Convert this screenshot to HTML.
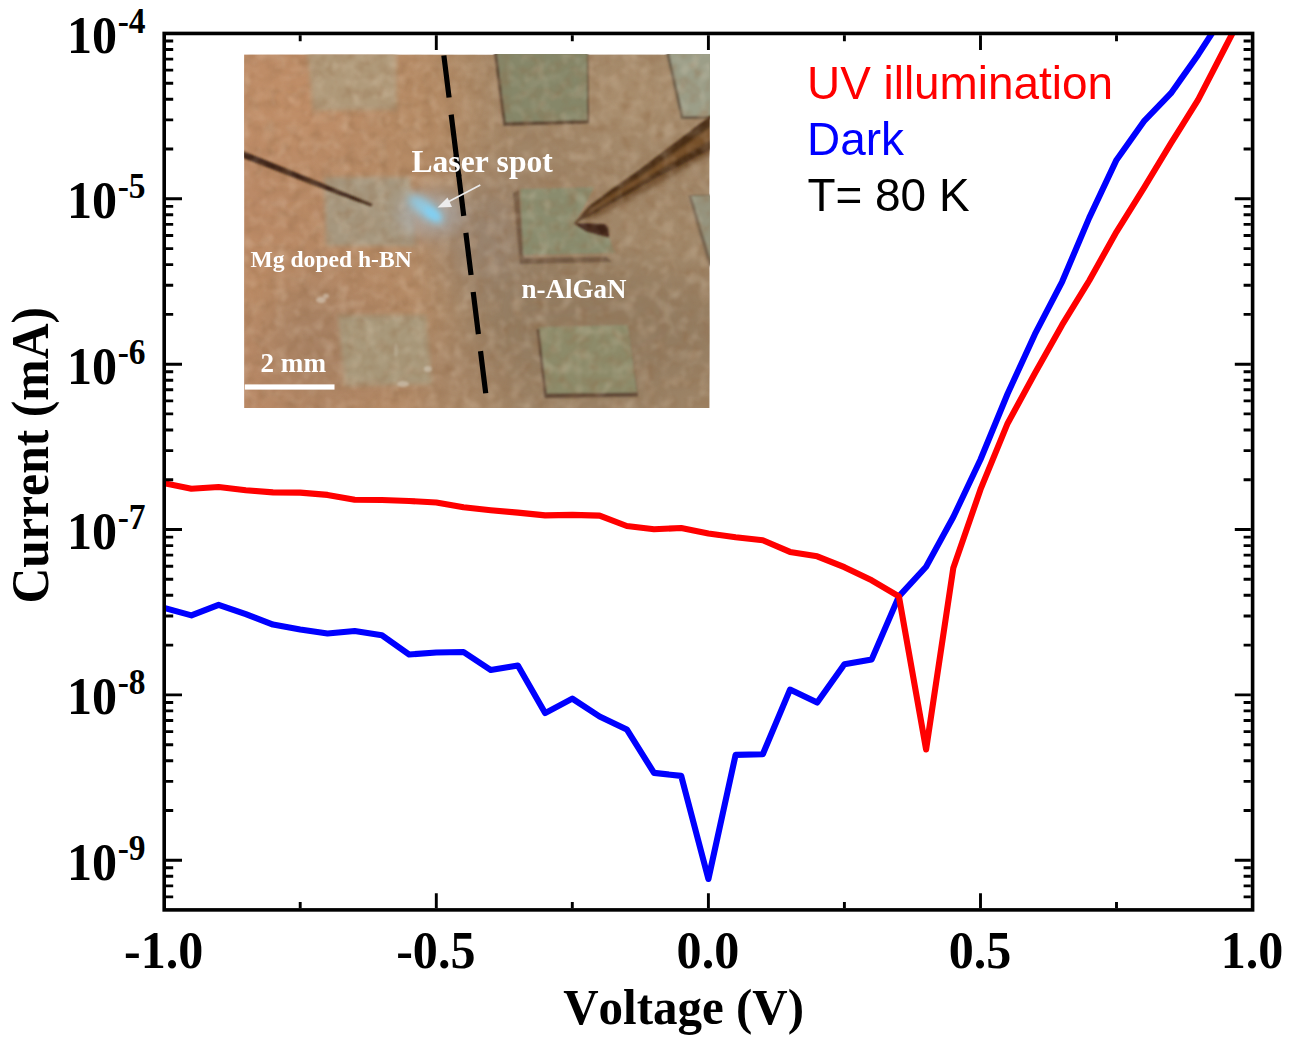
<!DOCTYPE html><html><head><meta charset="utf-8"><style>html,body{margin:0;padding:0;background:#fff;overflow:hidden}svg{display:block;position:absolute;left:0;top:0}text{font-family:"Liberation Serif",serif;font-weight:bold;fill:#000;font-kerning:none}.s{font-family:"Liberation Sans",sans-serif;font-weight:normal}</style></head><body>
<svg width="1296" height="1052" viewBox="0 0 1296 1052">
<rect width="1296" height="1052" fill="#fff"/>
<defs>
<clipPath id="ic"><rect x="244.1" y="54.5" width="465.5" height="353.6"/></clipPath>
<filter id="b1" x="-20%" y="-20%" width="140%" height="140%"><feGaussianBlur stdDeviation="1.1"/></filter>
<filter id="b2" x="-20%" y="-20%" width="140%" height="140%"><feGaussianBlur stdDeviation="2.4"/></filter>
<filter id="b4" x="-40%" y="-40%" width="180%" height="180%"><feGaussianBlur stdDeviation="4"/></filter>
<filter id="b6" x="-60%" y="-60%" width="220%" height="220%"><feGaussianBlur stdDeviation="8"/></filter>
<filter id="b25" x="-50%" y="-50%" width="200%" height="200%"><feGaussianBlur stdDeviation="26"/></filter>
<filter id="nz" x="0" y="0" width="100%" height="100%"><feTurbulence type="fractalNoise" baseFrequency="0.09" numOctaves="2" seed="11" result="t"/><feColorMatrix in="t" type="matrix" values="0 0 0 0 0.28  0 0 0 0 0.14  0 0 0 0 0.06  1.1 1.1 0 0 -0.98" result="c"/><feGaussianBlur in="c" stdDeviation="0.9"/></filter>
<filter id="nz2" x="0" y="0" width="100%" height="100%"><feTurbulence type="fractalNoise" baseFrequency="0.08" numOctaves="2" seed="29" result="t"/><feColorMatrix in="t" type="matrix" values="0 0 0 0 0.95  0 0 0 0 0.82  0 0 0 0 0.66  1.1 0 1.1 0 -1.0" result="c"/><feGaussianBlur in="c" stdDeviation="0.9"/></filter>
<linearGradient id="bg" x1="0" x2="1" y1="0" y2="0"><stop offset="0" stop-color="#bb8a67"/><stop offset="0.36" stop-color="#b58b66"/><stop offset="0.48" stop-color="#ab8a68"/><stop offset="0.6" stop-color="#a08567"/><stop offset="1" stop-color="#a08668"/></linearGradient>
<linearGradient id="pr" x1="0" x2="0.55" y1="0" y2="1"><stop offset="0" stop-color="#4e3118"/><stop offset="0.42" stop-color="#8a5f35"/><stop offset="0.62" stop-color="#8f6437"/><stop offset="1" stop-color="#4a2e16"/></linearGradient>
</defs>
<g clip-path="url(#ic)">
<rect x="244.1" y="54.5" width="465.5" height="353.6" fill="url(#bg)"/>
<g filter="url(#b25)">
<ellipse cx="290" cy="100" rx="70" ry="50" fill="#c08e68"/>
<ellipse cx="258" cy="285" rx="30" ry="35" fill="#bd8c64"/><ellipse cx="305" cy="312" rx="35" ry="25" fill="#9c8068"/>
<ellipse cx="330" cy="350" rx="70" ry="50" fill="#a88264"/>
<ellipse cx="420" cy="110" rx="35" ry="45" fill="#b68b65"/>
<ellipse cx="630" cy="95" rx="60" ry="40" fill="#ab9070"/>
<ellipse cx="600" cy="330" rx="130" ry="75" fill="#937b60"/>
<ellipse cx="486" cy="235" rx="38" ry="55" fill="#958270"/>
<ellipse cx="455" cy="375" rx="45" ry="30" fill="#a58466"/>
<ellipse cx="660" cy="245" rx="35" ry="25" fill="#a88f70"/>
</g>
<!-- left pads -->
<g filter="url(#b2)">
<polygon points="307,50 396,50 397,110 313,111" fill="#b09a7a"/>
<polygon points="324,177 410,177 416,246 326,246" fill="#a6977e"/>
<polygon points="338,315 426,315 432,384 345,386" fill="#a8987a"/>
</g>
<!-- right pads with shadows -->
<g filter="url(#b1)">
<polygon points="493.5,50 588,50 589,123.5 503.5,126" fill="#5f4836"/>
<polygon points="496.5,48 587,48 587,120 506,122" fill="#868769"/>
<polygon points="666,52 712,52 712,119 681,119" fill="#6c5e4c"/>
<polygon points="668.5,50 712,50 712,116 683.5,116" fill="#9c9e88"/>
<polygon points="513,193 519,190 524,258 607,257 612,262 520,264" fill="#5e4735" opacity="0.68"/>
<polygon points="520,189 594,187.3 575,223.7 608.6,236.7 615,253 523.5,255" fill="#8a8c6e"/>
<polygon points="688,195 712,195 712,266 709,266" fill="#746450"/>
<polygon points="691.5,196 712,196 712,266 711.5,262" fill="#96947e"/>
<polygon points="536.5,329 628,326.5 638,396.5 544.5,398" fill="#604937"/>
<polygon points="539,327 628,325 637,392.5 547,393.5" fill="#8d8b6b"/>
</g>
<!-- probes -->
<g filter="url(#b1)">
<polygon points="243,151 243,158 330,191.5 371,206.6 372.8,204" fill="#3a2212"/>
</g>
<path d="M574,224 L592,219 L613,209 L638,196 L662,182 L712,153 L712,140 L640,178 Z" fill="#6b4a2b" opacity="0.85" filter="url(#b2)"/>
<g filter="url(#b1)">
<path d="M573.5,224 L589,206 L611,189.5 L636,172.3 L660,154 L712,114.5 L712,148.5 L660,176 L636,189.5 L611,204 L590,216Z" fill="#4a2e17"/>
<path d="M584,216.5 L590,210 L611,195 L636,179.5 L660,163 L712,126 L712,139 L660,169.5 L636,184.5 L611,199.5 L590,212.5Z" fill="#775129" filter="url(#b1)"/>
<polygon points="574,223.3 590,223.3 605,224.3 608.2,228 609,237.2 597,234.5 586,231.2" fill="#3d2216"/>
</g>
<rect x="244.1" y="54.5" width="465.5" height="353.6" filter="url(#nz)" opacity="0.5"/>
<rect x="244.1" y="54.5" width="465.5" height="353.6" filter="url(#nz2)" opacity="0.3"/>
<!-- laser -->
<ellipse cx="430" cy="214" rx="34" ry="24" fill="#aab4be" opacity="0.5" filter="url(#b6)"/>
<g filter="url(#b4)" opacity="0.9"><ellipse cx="426" cy="209" rx="21" ry="8" fill="#8ccdea" transform="rotate(37 426 209)"/></g>
<g filter="url(#b2)" opacity="0.85"><ellipse cx="432.5" cy="214" rx="9.5" ry="4.2" fill="#7fd1f6" transform="rotate(40 432.5 214)"/></g>
<!-- specks -->
<g filter="url(#b1)" fill="#d8cfc0" opacity="0.55"><ellipse cx="321" cy="300" rx="5" ry="3"/><ellipse cx="326" cy="296" rx="3" ry="2.5"/><ellipse cx="403" cy="384" rx="6" ry="3"/><ellipse cx="428" cy="369" rx="4" ry="3"/><ellipse cx="396" cy="350" rx="2" ry="7" opacity=".5"/></g>
</g>
<!-- dashed line -->
<g stroke="#000" stroke-width="5.2" fill="none" clip-path="url(#ic)">
<line x1="443.86" y1="55.45" x2="485.9" y2="394.6" stroke-dasharray="42.4 17.2"/>
<line x1="456.2" y1="155" x2="458.85" y2="176.5"/>
</g>
<!-- annotations -->
<g style="fill:#fff" fill="#fff">
<text x="411.5" y="171.5" font-size="31.6" style="fill:#fff">Laser spot</text>
<text x="250.5" y="267.3" font-size="23.6" style="fill:#fff">Mg doped h-BN</text>
<text x="521.5" y="297.7" font-size="27" style="fill:#fff">n-AlGaN</text>
<text x="260.5" y="372.4" font-size="27.1" style="fill:#fff">2 mm</text>
<rect x="244.8" y="384.4" width="89.7" height="5.2"/>
</g>
<line x1="480.3" y1="185" x2="446" y2="203" stroke="#ececec" stroke-width="1.6"/>
<polygon points="437.5,207.5 447.5,197.5 452,207" fill="#ececec"/>

<clipPath id="pc"><rect x="164.2" y="33.45" width="1088.3999999999999" height="876.4499999999999"/></clipPath>
<polyline clip-path="url(#pc)" points="164.2,608.0 191.4,615.4 218.6,604.8 245.8,614.2 273.0,624.6 300.2,629.5 327.5,633.5 354.7,631.0 381.9,635.2 409.1,654.5 436.3,652.5 463.5,652.0 490.7,670.0 517.9,665.5 545.1,713.1 572.3,698.6 599.6,716.5 626.8,729.4 654.0,772.9 681.2,775.9 708.4,879.0 735.6,754.9 762.8,754.2 790.0,689.6 817.2,702.5 844.4,664.3 871.7,659.4 898.9,596.4 926.1,566.7 953.3,517.0 980.5,459.5 1007.7,393.5 1034.9,334.2 1062.1,281.8 1089.3,217.6 1116.5,159.9 1143.8,121.4 1171.0,93.2 1198.2,54.7 1225.4,12.6 1252.6,-30.0" fill="none" stroke="#0000ff" stroke-width="6.1" stroke-linejoin="round" stroke-linecap="butt"/>
<polyline clip-path="url(#pc)" points="164.2,483.2 191.4,488.7 218.6,487.0 245.8,490.2 273.0,492.4 300.2,492.6 327.5,494.9 354.7,499.8 381.9,500.0 409.1,501.0 436.3,502.5 463.5,507.3 490.7,510.2 517.9,512.6 545.1,515.4 572.3,514.9 599.6,515.6 626.8,526.0 654.0,529.2 681.2,528.0 708.4,533.4 735.6,537.3 762.8,540.3 790.0,551.9 817.2,556.3 844.4,567.2 871.7,580.3 898.9,596.4 926.1,749.5 953.3,568.0 980.5,489.4 1007.7,423.2 1034.9,373.3 1062.1,324.9 1089.3,280.5 1116.5,231.8 1143.8,188.1 1171.0,143.2 1198.2,99.6 1225.4,47.0 1252.6,-5.7" fill="none" stroke="#ff0000" stroke-width="6.1" stroke-linejoin="round" stroke-linecap="butt"/>
<path d="M166.0,896.9h7.2M1250.8,896.9h-7.2M166.0,885.9h7.2M1250.8,885.9h-7.2M166.0,876.3h7.2M1250.8,876.3h-7.2M166.0,867.8h7.2M1250.8,867.8h-7.2M166.0,860.3h16M1250.8,860.3h-16M166.0,810.5h7.2M1250.8,810.5h-7.2M166.0,781.4h7.2M1250.8,781.4h-7.2M166.0,760.7h7.2M1250.8,760.7h-7.2M166.0,744.7h7.2M1250.8,744.7h-7.2M166.0,731.6h7.2M1250.8,731.6h-7.2M166.0,720.5h7.2M1250.8,720.5h-7.2M166.0,710.9h7.2M1250.8,710.9h-7.2M166.0,702.5h7.2M1250.8,702.5h-7.2M166.0,694.9h16M1250.8,694.9h-16M166.0,645.1h7.2M1250.8,645.1h-7.2M166.0,616.0h7.2M1250.8,616.0h-7.2M166.0,595.3h7.2M1250.8,595.3h-7.2M166.0,579.3h7.2M1250.8,579.3h-7.2M166.0,566.2h7.2M1250.8,566.2h-7.2M166.0,555.1h7.2M1250.8,555.1h-7.2M166.0,545.6h7.2M1250.8,545.6h-7.2M166.0,537.1h7.2M1250.8,537.1h-7.2M166.0,529.5h16M1250.8,529.5h-16M166.0,479.8h7.2M1250.8,479.8h-7.2M166.0,450.6h7.2M1250.8,450.6h-7.2M166.0,430.0h7.2M1250.8,430.0h-7.2M166.0,413.9h7.2M1250.8,413.9h-7.2M166.0,400.9h7.2M1250.8,400.9h-7.2M166.0,389.8h7.2M1250.8,389.8h-7.2M166.0,380.2h7.2M1250.8,380.2h-7.2M166.0,371.7h7.2M1250.8,371.7h-7.2M166.0,364.2h16M1250.8,364.2h-16M166.0,314.4h7.2M1250.8,314.4h-7.2M166.0,285.3h7.2M1250.8,285.3h-7.2M166.0,264.6h7.2M1250.8,264.6h-7.2M166.0,248.6h7.2M1250.8,248.6h-7.2M166.0,235.5h7.2M1250.8,235.5h-7.2M166.0,224.4h7.2M1250.8,224.4h-7.2M166.0,214.8h7.2M1250.8,214.8h-7.2M166.0,206.4h7.2M1250.8,206.4h-7.2M166.0,198.8h16M1250.8,198.8h-16M166.0,149.0h7.2M1250.8,149.0h-7.2M166.0,119.9h7.2M1250.8,119.9h-7.2M166.0,99.3h7.2M1250.8,99.3h-7.2M166.0,83.2h7.2M1250.8,83.2h-7.2M166.0,70.1h7.2M1250.8,70.1h-7.2M166.0,59.1h7.2M1250.8,59.1h-7.2M166.0,49.5h7.2M1250.8,49.5h-7.2M166.0,41.0h7.2M1250.8,41.0h-7.2M300.2,908.1v-6.0M300.2,35.2v6.0M436.3,908.1v-14.9M436.3,35.2v14.9M572.3,908.1v-6.0M572.3,35.2v6.0M708.4,908.1v-14.9M708.4,35.2v14.9M844.4,908.1v-6.0M844.4,35.2v6.0M980.5,908.1v-14.9M980.5,35.2v14.9M1116.5,908.1v-6.0M1116.5,35.2v6.0" stroke="#000" stroke-width="2.9" fill="none"/>
<rect x="164.2" y="33.45" width="1088.3999999999999" height="876.4499999999999" fill="none" stroke="#000" stroke-width="3.6"/>
<text transform="translate(145.6,879.8) scale(1,1.055)" text-anchor="end" font-size="50.1"><tspan>10</tspan><tspan font-size="33.5" dy="-18.9" dx="0.6">-9</tspan></text>
<text transform="translate(145.6,714.4) scale(1,1.055)" text-anchor="end" font-size="50.1"><tspan>10</tspan><tspan font-size="33.5" dy="-18.9" dx="0.6">-8</tspan></text>
<text transform="translate(145.6,549.0) scale(1,1.055)" text-anchor="end" font-size="50.1"><tspan>10</tspan><tspan font-size="33.5" dy="-18.9" dx="0.6">-7</tspan></text>
<text transform="translate(145.6,383.7) scale(1,1.055)" text-anchor="end" font-size="50.1"><tspan>10</tspan><tspan font-size="33.5" dy="-18.9" dx="0.6">-6</tspan></text>
<text transform="translate(145.6,218.3) scale(1,1.055)" text-anchor="end" font-size="50.1"><tspan>10</tspan><tspan font-size="33.5" dy="-18.9" dx="0.6">-5</tspan></text>
<text transform="translate(145.6,53.0) scale(1,1.055)" text-anchor="end" font-size="50.1"><tspan>10</tspan><tspan font-size="33.5" dy="-18.9" dx="0.6">-4</tspan></text>
<text transform="translate(163.7,968.4) scale(1,1.055)" text-anchor="middle" font-size="50.1">-1.0</text>
<text transform="translate(435.8,968.4) scale(1,1.055)" text-anchor="middle" font-size="50.1">-0.5</text>
<text transform="translate(707.9,968.4) scale(1,1.055)" text-anchor="middle" font-size="50.1">0.0</text>
<text transform="translate(980.0,968.4) scale(1,1.055)" text-anchor="middle" font-size="50.1">0.5</text>
<text transform="translate(1252.1,968.4) scale(1,1.055)" text-anchor="middle" font-size="50.1">1.0</text>
<text transform="translate(683.6,1023.8) scale(1,1.04)" text-anchor="middle" font-size="49">Voltage (V)</text>
<text transform="translate(48.2,455.2) rotate(-90) scale(1,1.07)" text-anchor="middle" font-size="49.7">Current (mA)</text>
<text class="s" x="807" y="98.7" font-size="45.9" style="fill:#ff0000">UV illumination</text>
<text class="s" x="807" y="154.7" font-size="45.9" style="fill:#0000ff">Dark</text>
<text class="s" x="807.5" y="211" font-size="45.9" style="fill:#000">T= 80 K</text>
</svg></body></html>
